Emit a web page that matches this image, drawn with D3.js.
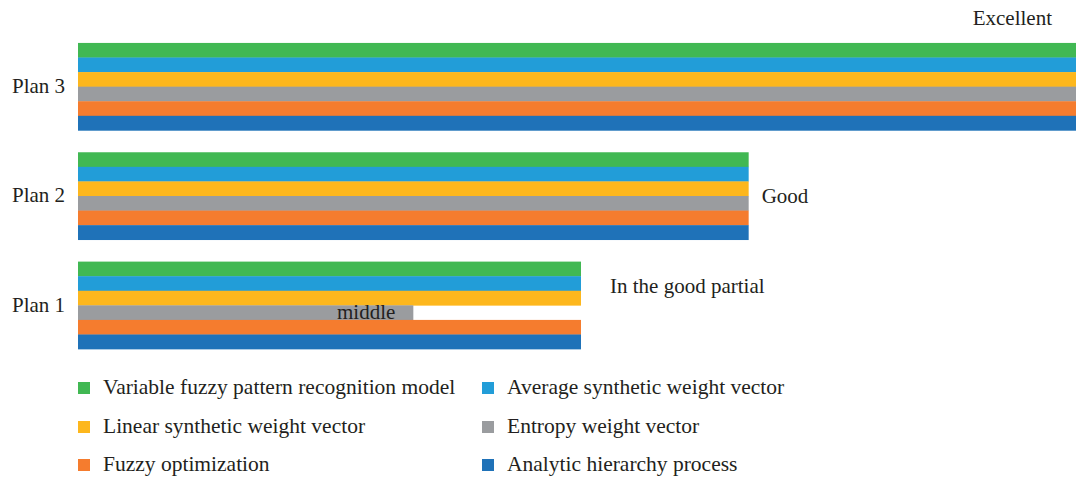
<!DOCTYPE html>
<html>
<head>
<meta charset="utf-8">
<script src="https://cdn.jsdelivr.net/npm/d3@7"></script>
<style>
  html, body { margin: 0; padding: 0; background: #fff; }
  svg { display: block; }
</style>
</head>
<body>
<svg id="chart" width="1076" height="478"></svg>
<script>
// ---- data ----
const plans = ["Plan 3", "Plan 2", "Plan 1"];
const seriesNames = [
  "Variable fuzzy pattern recognition model",
  "Average synthetic weight vector",
  "Linear synthetic weight vector",
  "Entropy weight vector",
  "Fuzzy optimization",
  "Analytic hierarchy process"
];
const seriesColors = ["#41b853", "#229dd8", "#fdb71d", "#9a9c9f", "#f57c2e", "#1f72b8"];
// values per series, in order of plans (Plan 3, Plan 2, Plan 1)
const variableFuzzy   = [6, 4, 3];
const averageWeight   = [6, 4, 3];
const linearWeight    = [6, 4, 3];
const entropyWeight   = [6, 4, 2];
const fuzzyOptim      = [6, 4, 3];
const ahp             = [6, 4, 3];
const seriesValues = [variableFuzzy, averageWeight, linearWeight, entropyWeight, fuzzyOptim, ahp];
const planLabels = ["Excellent", "Good", "In the good partial"];
const entropyLabelPlan1 = "middle";
const xMax = 6;

const FONT = "'Liberation Serif', 'Times New Roman', 'DejaVu Serif', serif";
const fs = 21;

// ---- scales ----
const svg = d3.select("#chart");
const x = d3.scaleLinear().domain([0, xMax]).range([78, 1084]);
const y = d3.scaleBand().domain(plans).range([32, 360]).paddingInner(0.2).paddingOuter(0.1);
const ys = d3.scaleBand().domain(d3.range(seriesNames.length)).range([0, y.bandwidth()]);

// ---- bars ----
const groups = svg.selectAll("g.plan").data(plans).join("g")
  .attr("class", "plan")
  .attr("transform", p => `translate(0,${y(p)})`);

groups.selectAll("rect").data((p, pi) => seriesValues.map((vals, si) => ({si, v: vals[pi]})))
  .join("rect")
  .attr("x", x(0))
  .attr("y", d => ys(d.si))
  .attr("width", d => x(d.v) - x(0))
  .attr("height", ys.bandwidth() + 0.3)
  .attr("fill", d => seriesColors[d.si]);

function txt(sel, size) {
  return sel.attr("font-family", FONT).attr("font-size", size || fs).attr("fill", "#231f20");
}

// ---- category axis labels ----
txt(svg.selectAll("text.cat").data(plans).join("text")
  .attr("class", "cat")
  .attr("x", 12)
  .attr("y", p => y(p) + y.bandwidth() / 2)
  .attr("dy", "0.3em"))
  .text(p => p);

// ---- data labels ----
txt(svg.append("text")
  .attr("x", 1052)
  .attr("y", y("Plan 3") - 17.5)
  .attr("text-anchor", "end"))
  .text(planLabels[0]);
txt(svg.append("text")
  .attr("x", x(variableFuzzy[1]) + 13)
  .attr("y", y("Plan 2") + y.bandwidth() / 2 + 6.5))
  .text(planLabels[1]);
txt(svg.append("text")
  .attr("x", x(variableFuzzy[2]) + 29)
  .attr("y", y("Plan 1") + y.bandwidth() / 2 - 12.5))
  .text(planLabels[2]);
txt(svg.append("text")
  .attr("x", x(entropyWeight[2]) - 18)
  .attr("y", y("Plan 1") + ys(4) - 0.5)
  .attr("text-anchor", "end"))
  .text(entropyLabelPlan1);

// ---- legend ----
const legend = svg.append("g");
const legendCols = [78, 482];
const legendRows = [388, 427, 465];
const items = legend.selectAll("g").data(seriesNames).join("g")
  .attr("transform", (d, i) => `translate(${legendCols[i % 2]},${legendRows[Math.floor(i / 2)]})`);
items.append("rect")
  .attr("x", 0).attr("y", -6).attr("width", 12).attr("height", 12)
  .attr("fill", (d, i) => seriesColors[i]);
txt(items.append("text")
  .attr("x", 25).attr("y", 5.8), 21.5)
  .text(d => d);
</script>
</body>
</html>
